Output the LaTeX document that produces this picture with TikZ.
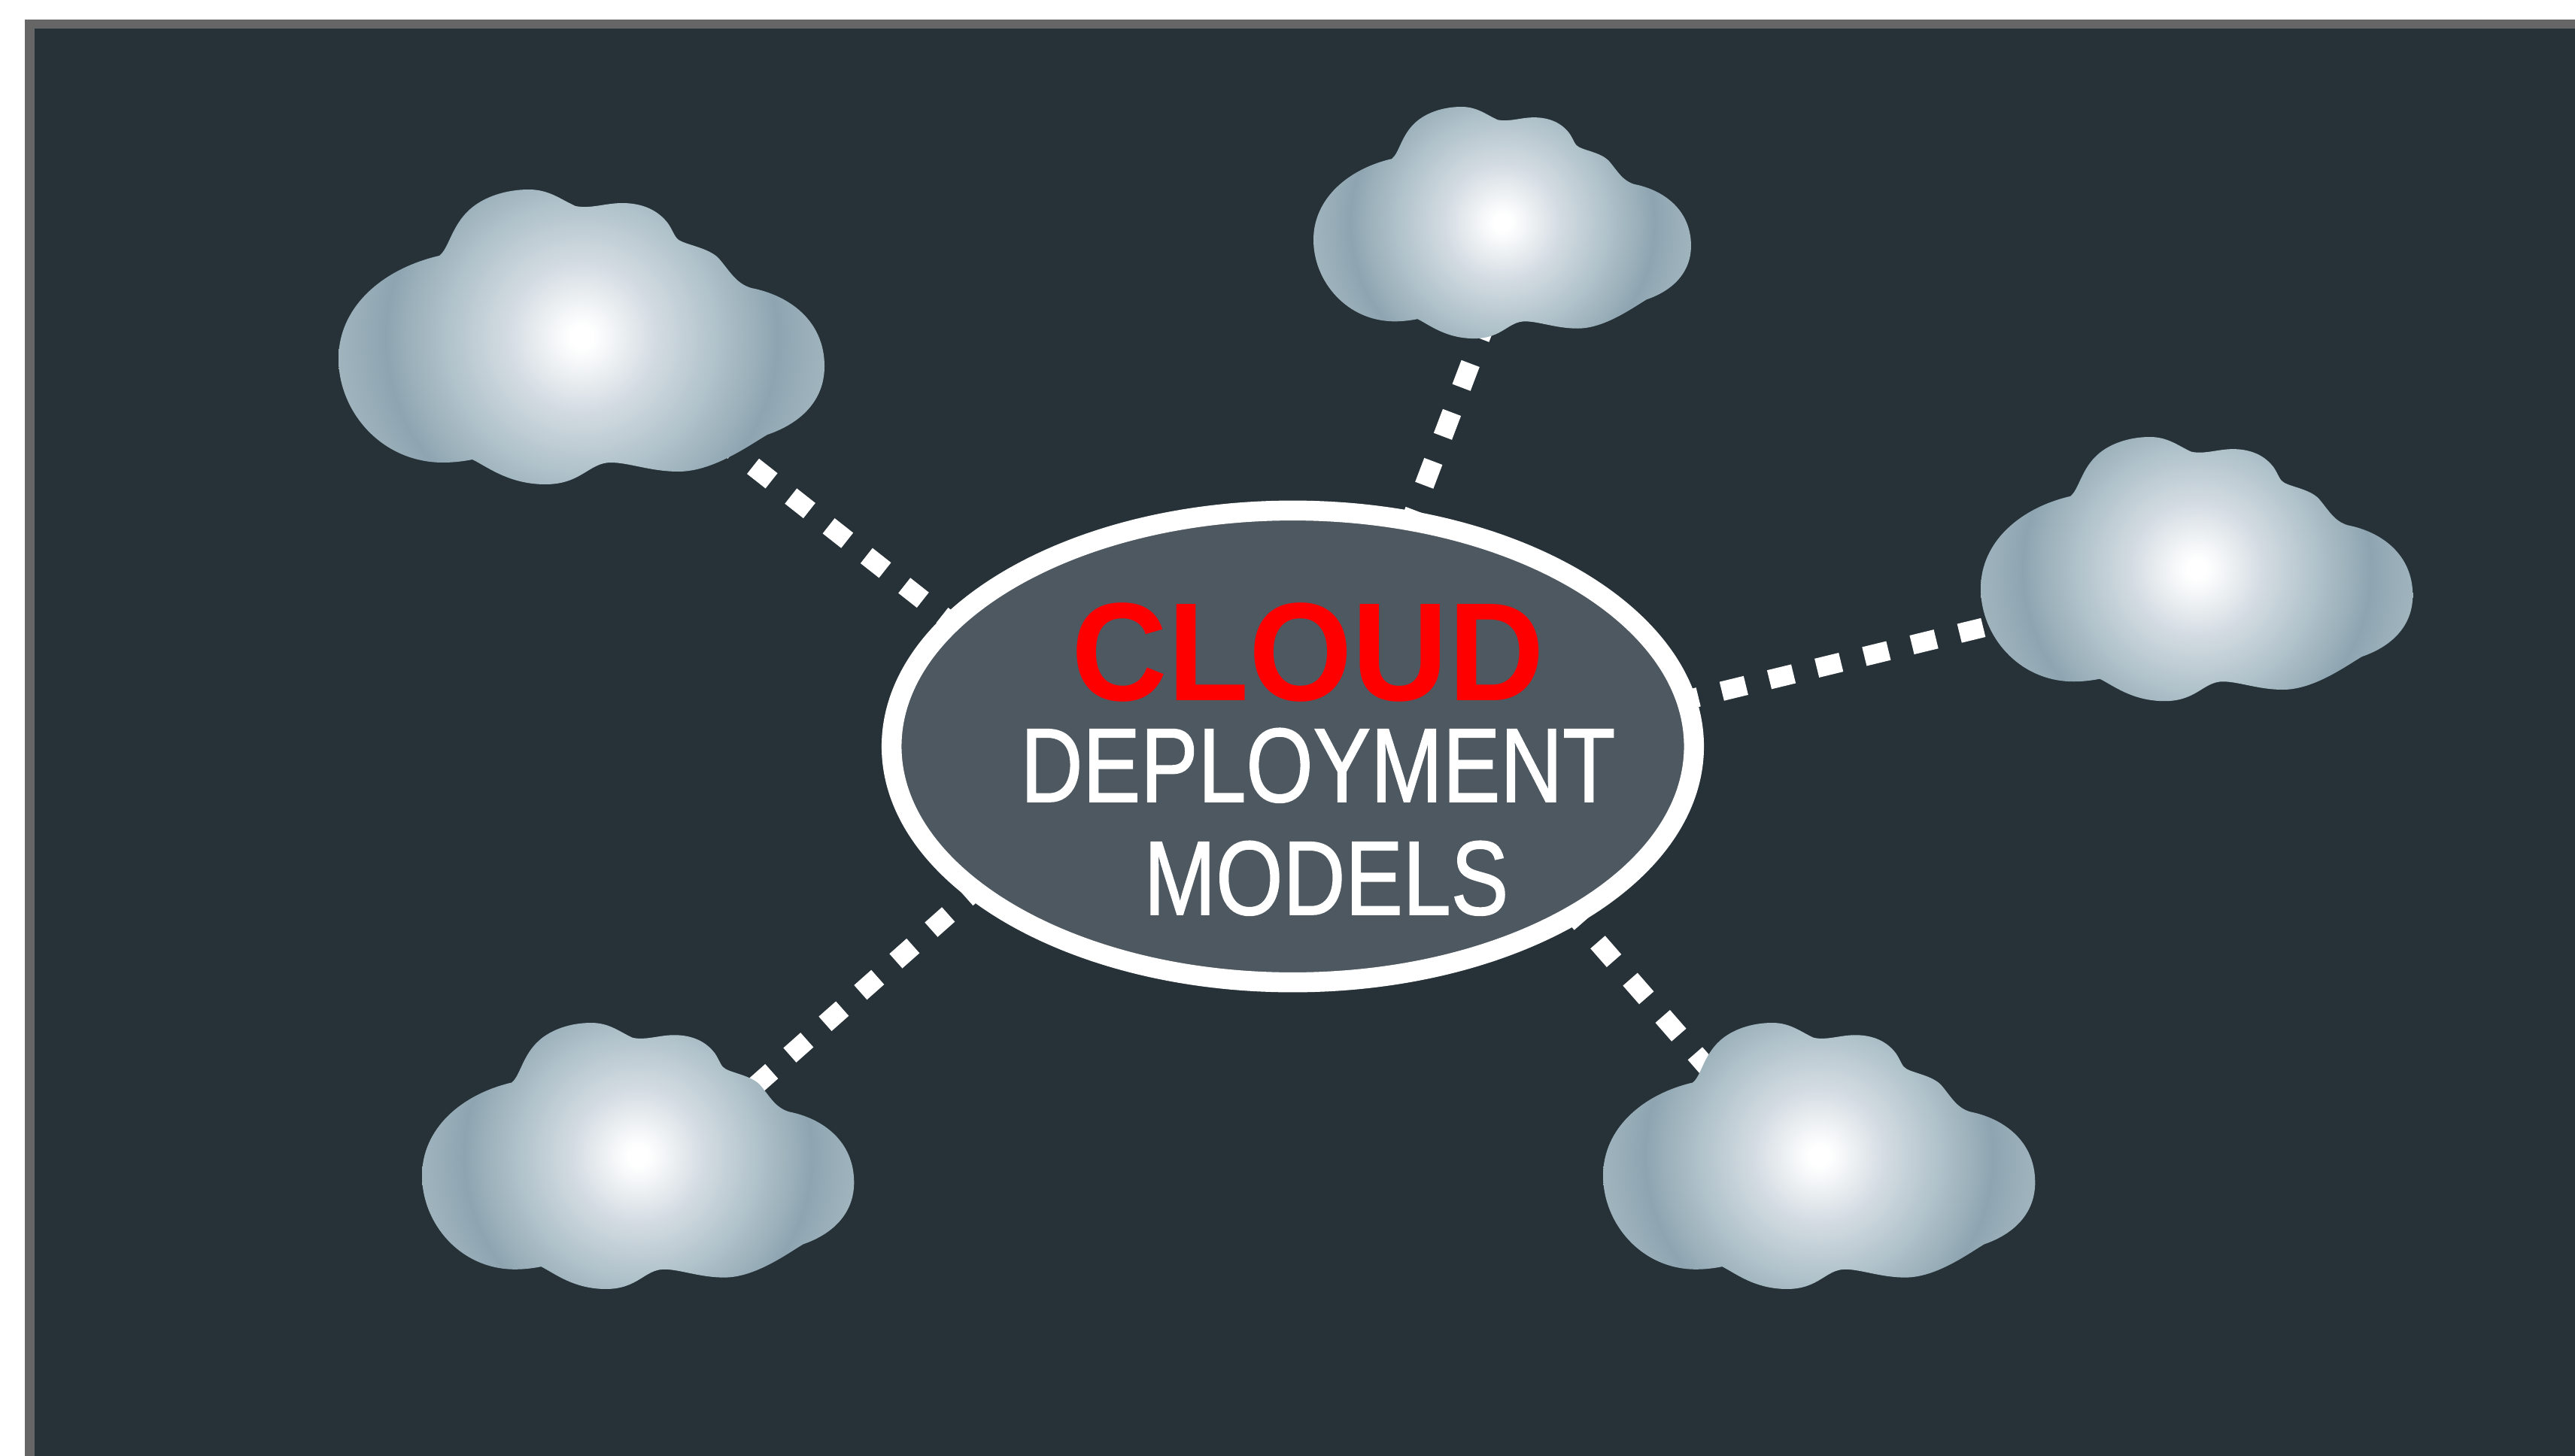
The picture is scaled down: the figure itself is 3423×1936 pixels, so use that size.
\documentclass[tikz,border=0pt]{standalone}
\usepackage{fontspec}
\usepackage{graphicx}
\setmainfont{Liberation Sans}
\newfontfamily\narrowface[FakeBold=1.2]{Liberation Sans}
\usetikzlibrary{shapes.geometric}
\definecolor{slate}{HTML}{263238}
\definecolor{rimgray}{HTML}{666666}
\definecolor{hubfill}{HTML}{4D5860}
\definecolor{glowA}{HTML}{F0F3F5}
\definecolor{glowB}{HTML}{D3DBE2}
\definecolor{glowC}{HTML}{B0C2CA}
\definecolor{glowD}{HTML}{8EA5B1}
\definecolor{glowE}{HTML}{A0B4BE}
\pgfdeclareradialshading{cloudglow}{\pgfpoint{0bp}{0bp}}{%
  color(0bp)=(white);
  color(0.9bp)=(white);
  color(2.8bp)=(glowA);
  color(6.25bp)=(glowB);
  color(11.25bp)=(glowC);
  color(16.25bp)=(glowD);
  color(20.3bp)=(glowE);
  color(50bp)=(glowE)}
\newcommand{\cloudoutline}{(584,340)
 .. controls (597,330) and (600,300) .. (625,278)
 .. controls (643,262) and (672,252) .. (703,252)
 .. controls (730,252) and (745,265) .. (765,274)
 .. controls (785,278) and (805,270) .. (827,270)
 .. controls (855,270) and (875,280) .. (888,297)
 .. controls (895,307) and (897,317) .. (904,320)
 .. controls (915,326) and (942,330) .. (955,343)
 .. controls (970,360) and (978,377) .. (999,383)
 .. controls (1050,393) and (1096,427) .. (1096,487)
 .. controls (1096,533) and (1064,563) .. (1020,578)
 .. controls (996,592) and (948,627) .. (902,627)
 .. controls (865,627) and (836,615) .. (812,615)
 .. controls (783,615) and (773,644) .. (725,644)
 .. controls (676,644) and (647,620) .. (628,611)
 .. controls (618,613) and (604,615) .. (589,615)
 .. controls (507,615) and (450,547) .. (450,477)
 .. controls (450,407) and (510,357) .. (584,340) -- cycle}
\newcommand{\cloudat}[4]{%
  \begin{scope}[shift={(#1,#2)},xscale=#3,yscale=#4,shift={(-450,-252)}]
    \begin{scope}
      \clip \cloudoutline;
      \shade[shading=cloudglow] (773,448) circle (400);
    \end{scope}
  \end{scope}}
\tikzset{
  link/.style 2 args={draw=white,line width=0.258cm,dash pattern=on #1cm off #2cm},
  hubring/.style={ellipse,draw=white,fill=hubfill,line width=0.265cm,inner sep=0pt,outer sep=0pt,
    minimum width=10.66cm,minimum height=6.27cm},
  titletext/.style={anchor=base,inner sep=0pt,outer sep=0pt}
}
\begin{document}
\begin{tikzpicture}[x=0.01cm,y=-0.01cm]
\useasboundingbox (0,0) rectangle (3423,1936);
\fill[white] (0,0) rectangle (3423,1936);
\fill[rimgray] (33,26) rectangle (3423,1936);
\fill[slate] (46,38) rectangle (3423,1936);
% connector ends
\coordinate (cloudNW) at (950.7,580.3);
\coordinate (hubNW) at (1277.3,837.7);
\coordinate (cloudNE) at (1979.4,418.4);
\coordinate (hubN) at (1868.6,710.2);
\coordinate (hubE) at (2225.6,934.6);
\coordinate (cloudE) at (2636.3,834.4);
\coordinate (hubSE) at (2080.8,1203.4);
\coordinate (cloudSE) at (2274.8,1425.3);
\coordinate (hubSW) at (1307.7,1174.2);
\coordinate (cloudSW) at (1002.9,1444.8);
\draw[link={0.313}{0.327}] (cloudNW) -- (hubNW);
\draw[link={0.34}{0.355}] (cloudNE) -- (hubN);
\draw[link={0.33}{0.32}] (hubE) -- (cloudE);
\draw[link={0.328}{0.327}] (hubSE) -- (cloudSE);
\draw[link={0.305}{0.323}] (hubSW) -- (cloudSW);
% clouds
\cloudat{450}{252}{1}{1}
\cloudat{1746}{142}{0.777}{0.786}
\cloudat{2633}{581}{0.889}{0.896}
\cloudat{561}{1360}{0.889}{0.903}
\cloudat{2131}{1360}{0.889}{0.903}
% hub
\node[hubring] (hub) at (1718.5,992.5) {};
\node[titletext,text=red,font=\fontsize{52.9pt}{60pt}\selectfont\bfseries] (cloudword) at (1739,931) {\scalebox{0.95}[1]{CLOUD}};
\node[titletext,text=white,font=\fontsize{39.8pt}{46pt}\selectfont\narrowface] (deployword) at (1752,1066) {\scalebox{0.82}[1]{DEPLOYMENT}};
\node[titletext,text=white,font=\fontsize{39.8pt}{46pt}\selectfont\narrowface] (modelsword) at (1763,1216) {\scalebox{0.82}[1]{MODELS}};
\end{tikzpicture}
\end{document}
